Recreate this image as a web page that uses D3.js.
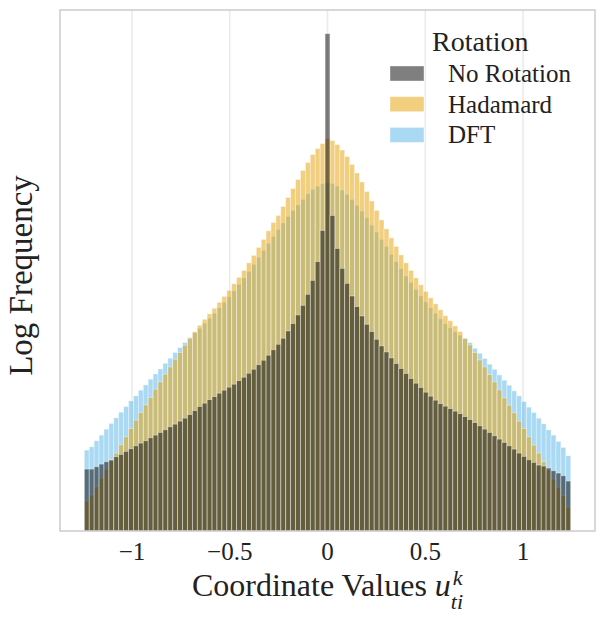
<!DOCTYPE html>
<html>
<head>
<meta charset="utf-8">
<script src="https://cdn.jsdelivr.net/npm/d3@7"></script>
<style>
  body { margin: 0; background: #fff; }
  text { font-family: "Liberation Serif", "DejaVu Serif", serif; fill: #222; }
</style>
</head>
<body>
<div id="chart"></div>
<script>
// histogram bins: 99 equal bins over the coordinate range
var binRange = [-1.2435, 1.2435];
var binCount = 99;

// log10 of bin frequency (left to right)
var noRotation = [
  1.11, 1.11, 1.133, 1.16, 1.183, 1.20, 1.233, 1.257, 1.287, 1.313,
  1.343, 1.37, 1.393, 1.423, 1.45, 1.477, 1.503, 1.533, 1.56, 1.59,
  1.62, 1.655, 1.695, 1.737, 1.77, 1.805, 1.835, 1.87, 1.90, 1.93,
  1.96, 1.995, 2.03, 2.07, 2.11, 2.155, 2.20, 2.25, 2.305, 2.36,
  2.42, 2.493, 2.567, 2.653, 2.75, 2.86, 3.00, 3.187, 3.50, 5.47,
  3.65, 3.32, 3.12, 2.97, 2.843, 2.737, 2.643, 2.56, 2.487, 2.41,
  2.343, 2.283, 2.223, 2.167, 2.117, 2.067, 2.017, 1.97, 1.927, 1.88,
  1.84, 1.80, 1.765, 1.74, 1.715, 1.69, 1.665, 1.635, 1.605, 1.575,
  1.543, 1.51, 1.477, 1.443, 1.41, 1.377, 1.343, 1.31, 1.27, 1.237,
  1.203, 1.177, 1.15, 1.14, 1.12, 1.093, 1.07, 1.043, 0.99
];

var hadamard = [
  0.79, 0.85, 0.933, 1.02, 1.11, 1.20, 1.27, 1.353, 1.433, 1.517,
  1.60, 1.677, 1.753, 1.827, 1.91, 1.983, 2.06, 2.133, 2.21, 2.277,
  2.35, 2.42, 2.485, 2.55, 2.61, 2.665, 2.72, 2.78, 2.84, 2.90,
  2.965, 3.03, 3.10, 3.175, 3.25, 3.33, 3.41, 3.495, 3.58, 3.65,
  3.74, 3.83, 3.92, 4.01, 4.10, 4.18, 4.26, 4.32, 4.37, 4.42,
  4.40, 4.36, 4.305, 4.24, 4.16, 4.075, 3.985, 3.89, 3.795, 3.70,
  3.605, 3.515, 3.425, 3.34, 3.255, 3.175, 3.10, 3.025, 2.955, 2.89,
  2.825, 2.765, 2.705, 2.645, 2.595, 2.543, 2.487, 2.417, 2.353, 2.277,
  2.203, 2.133, 2.057, 1.983, 1.903, 1.823, 1.75, 1.673, 1.59, 1.517,
  1.433, 1.35, 1.27, 1.183, 1.103, 1.01, 0.927, 0.843, 0.727
];

var dft = [
  1.30, 1.333, 1.393, 1.45, 1.51, 1.567, 1.623, 1.68, 1.737, 1.793,
  1.843, 1.90, 1.953, 2.01, 2.063, 2.113, 2.17, 2.22, 2.277, 2.327,
  2.377, 2.427, 2.475, 2.52, 2.57, 2.62, 2.67, 2.725, 2.78, 2.835,
  2.895, 2.96, 3.025, 3.09, 3.16, 3.23, 3.30, 3.37, 3.44, 3.51,
  3.575, 3.64, 3.70, 3.755, 3.81, 3.865, 3.91, 3.943, 3.967, 3.977,
  3.97, 3.943, 3.903, 3.86, 3.81, 3.75, 3.693, 3.627, 3.553, 3.483,
  3.41, 3.337, 3.26, 3.187, 3.117, 3.043, 2.977, 2.91, 2.843, 2.783,
  2.725, 2.67, 2.615, 2.565, 2.525, 2.485, 2.45, 2.42, 2.377, 2.32,
  2.27, 2.217, 2.16, 2.11, 2.053, 2.00, 1.95, 1.893, 1.843, 1.787,
  1.73, 1.677, 1.62, 1.563, 1.503, 1.45, 1.387, 1.327, 1.243
];

var seriesNames = ["No Rotation", "Hadamard", "DFT"];
var seriesColors = ["#000000", "#E69F00", "#56B4E9"];
var xTicks = [-1, -0.5, 0, 0.5, 1];

var width = 605, height = 623;
var margin = {top: 10, right: 10, bottom: 92, left: 60};
var plotW = width - margin.left - margin.right;
var plotH = height - margin.top - margin.bottom;

var svg = d3.select("#chart").append("svg")
  .attr("width", width)
  .attr("height", height);

var binW = (binRange[1] - binRange[0]) / binCount;
var edges = d3.range(binCount + 1).map(function(i) { return binRange[0] + i * binW; });

// 5% margins like matplotlib autoscale
var xPad = (binRange[1] - binRange[0]) * 0.05;
var x = d3.scaleLinear()
  .domain([binRange[0] - xPad, binRange[1] + xPad])
  .range([margin.left, margin.left + plotW]);

var allVals = noRotation.concat(hadamard, dft);
var yExt = d3.extent(allVals);
var yPad = (yExt[1] - yExt[0]) * 0.05;
var y = d3.scaleLinear()
  .domain([yExt[0] - yPad, yExt[1] + yPad])
  .range([margin.top + plotH, margin.top]);

// vertical grid
svg.append("g")
  .selectAll("line")
  .data(xTicks)
  .enter().append("line")
  .attr("x1", function(d) { return x(d); })
  .attr("x2", function(d) { return x(d); })
  .attr("y1", margin.top)
  .attr("y2", margin.top + plotH)
  .attr("stroke", "#ebebeb")
  .attr("stroke-width", 1.6);

// bars: DFT first, then Hadamard, then No Rotation on top
var layers = [
  {name: "DFT", values: dft, color: seriesColors[2]},
  {name: "Hadamard", values: hadamard, color: seriesColors[1]},
  {name: "No Rotation", values: noRotation, color: seriesColors[0]}
];

layers.forEach(function(layer) {
  svg.append("g")
    .selectAll("rect")
    .data(layer.values)
    .enter().append("rect")
    .attr("x", function(d, i) { return x(edges[i]); })
    .attr("width", function(d, i) { return x(edges[i + 1]) - x(edges[i]); })
    .attr("y", function(d) { return y(d); })
    .attr("height", function(d) { return y.range()[0] - y(d); })
    .attr("fill", layer.color)
    .attr("fill-opacity", 0.5)
    .attr("stroke", "#ffffff")
    .attr("stroke-opacity", 0.5)
    .attr("stroke-width", 0.75);
});

// frame
svg.append("rect")
  .attr("x", margin.left)
  .attr("y", margin.top)
  .attr("width", plotW)
  .attr("height", plotH)
  .attr("fill", "none")
  .attr("stroke", "#cccccc")
  .attr("stroke-width", 1.5);

// x tick labels
var fmt = function(d) { return d < 0 ? "\u2212" + Math.abs(d) : String(d); };
svg.append("g")
  .selectAll("text")
  .data(xTicks)
  .enter().append("text")
  .attr("x", function(d) { return x(d); })
  .attr("y", 560)
  .attr("text-anchor", "middle")
  .style("font-size", "25px")
  .text(fmt);

// x label with u_{ti}^k
var xl = svg.append("g");
var xText = xl.append("text")
  .attr("x", 0)
  .attr("y", 596)
  .style("font-size", "32px");
xText.append("tspan").text("Coordinate Values ");
xText.append("tspan").style("font-style", "italic").text("u");
var baseW = xText.node().getComputedTextLength();
xl.append("text")
  .attr("x", baseW + 2)
  .attr("y", 585)
  .style("font-size", "22px")
  .style("font-style", "italic")
  .text("k");
var sub = xl.append("text")
  .attr("x", baseW)
  .attr("y", 609)
  .style("font-size", "22px")
  .style("font-style", "italic")
  .text("ti");
var totalW = baseW + sub.node().getComputedTextLength();
xl.attr("transform", "translate(" + (margin.left + plotW / 2 - totalW / 2) + ",0)");

// y label
svg.append("text")
  .attr("transform", "translate(32," + (margin.top + plotH / 2 + 5) + ") rotate(-90)")
  .attr("text-anchor", "middle")
  .style("font-size", "33px")
  .text("Log Frequency");

// legend
var legend = svg.append("g").attr("transform", "translate(390,0)");
legend.append("text")
  .attr("x", 42)
  .attr("y", 51)
  .style("font-size", "28px")
  .text("Rotation");

var items = legend.selectAll(".item")
  .data(seriesNames)
  .enter().append("g")
  .attr("class", "item")
  .attr("transform", function(d, i) { return "translate(0," + (66 + i * 30.7) + ")"; });

items.append("rect")
  .attr("width", 34)
  .attr("height", 15)
  .attr("fill", function(d, i) { return seriesColors[i]; })
  .attr("fill-opacity", 0.5)
  .attr("stroke", "#ffffff")
  .attr("stroke-opacity", 0.5)
  .attr("stroke-width", 0.75);

items.append("text")
  .attr("x", 58)
  .attr("y", 16)
  .style("font-size", "25px")
  .text(function(d) { return d; });
</script>
</body>
</html>
